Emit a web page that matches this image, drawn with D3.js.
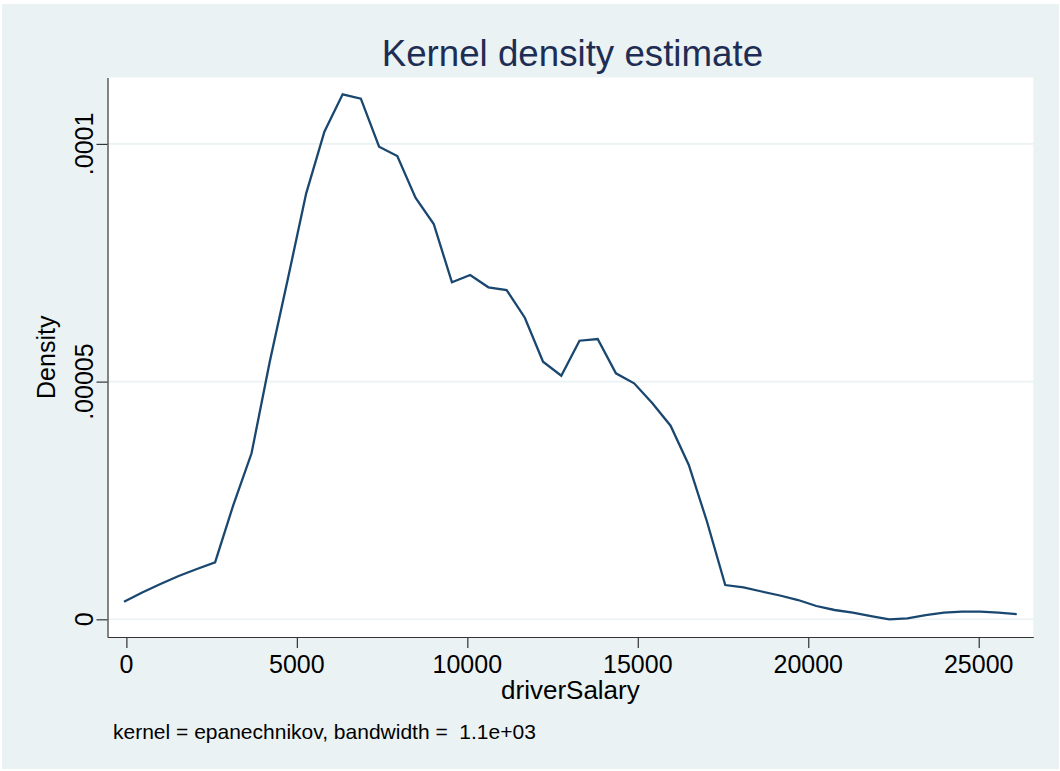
<!DOCTYPE html>
<html>
<head>
<meta charset="utf-8">
<script src="https://cdn.jsdelivr.net/npm/d3@7"></script>
<style>
  html, body { margin: 0; padding: 0; background: #fff; }
  svg { display: block; }
  text { font-family: "Liberation Sans", Arial, Helvetica, sans-serif; white-space: pre; }
</style>
</head>
<body>
<div id="chart"></div>
<script>
// kdensity output, 50 evaluation points
const salary = [-70, 464, 999, 1533, 2068, 2602, 3136, 3671, 4205, 4740,
  5274, 5808, 6343, 6877, 7412, 7946, 8480, 9015, 9549, 10084,
  10618, 11152, 11687, 12221, 12756, 13290, 13824, 14359, 14893, 15428,
  15962, 16496, 17031, 17565, 18100, 18634, 19168, 19703, 20237, 20772,
  21306, 21840, 22375, 22909, 23444, 23978, 24512, 25047, 25581, 26116]
const density = [3.70e-6, 5.64e-6, 7.43e-6, 9.11e-6, 1.058e-5, 1.199e-5, 2.404e-5, 3.492e-5, 5.419e-5, 7.173e-5,
  8.961e-5, 1.0257e-4, 1.1043e-4, 1.0951e-4, 9.941e-5, 9.746e-5, 8.868e-5, 8.315e-5, 7.089e-5, 7.242e-5,
  6.984e-5, 6.927e-5, 6.344e-5, 5.419e-5, 5.124e-5, 5.860e-5, 5.896e-5, 5.175e-5, 4.964e-5, 4.544e-5,
  4.072e-5, 3.246e-5, 2.053e-5, 7.21e-6, 6.73e-6, 5.85e-6, 5.01e-6, 4.06e-6, 2.80e-6, 1.96e-6,
  1.39e-6, 6.9e-7, 0, 2.1e-7, 9.0e-7, 1.39e-6, 1.60e-6, 1.60e-6, 1.39e-6, 1.11e-6]

const xTicks = [0, 5000, 10000, 15000, 20000, 25000]
const xTickLabels = ['0', '5000', '10000', '15000', '20000', '25000']
const yTicks = [0, 0.00005, 0.0001]
const yTickLabels = ['0', '.00005', '.0001']

const title = 'Kernel density estimate'
const xTitle = 'driverSalary'
const yTitle = 'Density'
const note = 'kernel = epanechnikov, bandwidth =  1.1e+03'

const width = 1060
const height = 771
const plot = { left: 107.5, right: 1033.3, top: 77.5, bottom: 637 }
const bg = '#eaf2f3'
const navy = '#1a476f'

const svg = d3.select('#chart')
              .append('svg')
              .attr('width', width)
              .attr('height', height)

// graph region
svg.append('rect')
    .attr('x', 2).attr('y', 4)
    .attr('width', width - 3).attr('height', height - 6)
    .style('fill', bg)

// plot region
svg.append('rect')
    .attr('x', plot.left).attr('y', plot.top)
    .attr('width', plot.right - plot.left).attr('height', plot.bottom - plot.top)
    .style('fill', '#fff')

// axis limits as stata picked them
const x = d3.scaleLinear().domain([-554, 26601]).range([plot.left, plot.right])
const y = d3.scaleLinear().domain([-3.72e-6, 1.1397e-4]).range([plot.bottom, plot.top])

svg.append('g')
    .selectAll('line')
    .data(yTicks)
    .enter()
    .append('line')
    .attr('x1', plot.left).attr('x2', plot.right)
    .attr('y1', d => y(d)).attr('y2', d => y(d))
    .style('stroke', bg)
    .style('stroke-width', 1.6)

const line = d3.line()
    .x((_, i) => x(salary[i]))
    .y(d => y(d))

svg.append('path')
    .datum(density)
    .attr('d', line)
    .style('fill', 'none')
    .style('stroke', navy)
    .style('stroke-width', 2.3)
    .style('stroke-linejoin', 'miter')

const xAxis = svg.append('g')
    .attr('transform', `translate(0, ${plot.bottom})`)
    .call(d3.axisBottom(x).tickValues(xTicks).tickSize(11).tickSizeOuter(0).tickFormat(''))

const yAxis = svg.append('g')
    .attr('transform', `translate(${plot.left}, 0)`)
    .call(d3.axisLeft(y).tickValues(yTicks).tickSize(11).tickSizeOuter(0).tickFormat(''))

;[xAxis, yAxis].forEach(a => {
    a.selectAll('path, line').style('stroke', '#333').style('stroke-width', 1.2)
})

svg.append('g')
    .selectAll('text')
    .data(xTicks)
    .enter()
    .append('text')
    .attr('x', d => x(d))
    .attr('y', 673)
    .attr('text-anchor', 'middle')
    .style('font-size', '25px')
    .style('fill', '#000')
    .text((_, i) => xTickLabels[i])

svg.append('g')
    .selectAll('text')
    .data(yTicks)
    .enter()
    .append('text')
    .attr('transform', d => `translate(93, ${y(d)}) rotate(-90)`)
    .attr('text-anchor', 'middle')
    .style('font-size', '25px')
    .style('fill', '#000')
    .text((_, i) => yTickLabels[i])

svg.append('text')
    .attr('transform', `translate(55, ${(plot.top + plot.bottom) / 2}) rotate(-90)`)
    .attr('text-anchor', 'middle')
    .style('font-size', '25px')
    .style('fill', '#000')
    .text(yTitle)

svg.append('text')
    .attr('x', (plot.left + plot.right) / 2)
    .attr('y', 699)
    .attr('text-anchor', 'middle')
    .style('font-size', '26px')
    .style('fill', '#000')
    .text(xTitle)

svg.append('text')
    .attr('x', (plot.left + plot.right) / 2 + 2)
    .attr('y', 66)
    .attr('text-anchor', 'middle')
    .style('font-size', '36.7px')
    .style('fill', '#1e2d53')
    .text(title)

svg.append('text')
    .attr('x', 113)
    .attr('y', 739)
    .style('font-size', '21px')
    .style('fill', '#000')
    .text(note)
</script>
</body>
</html>
